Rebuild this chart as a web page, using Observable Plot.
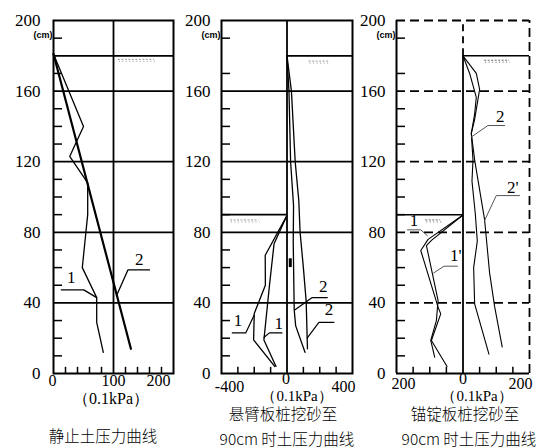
<!DOCTYPE html>
<html><head><meta charset="utf-8">
<script src="https://cdn.jsdelivr.net/npm/d3@7"></script>
<script src="https://cdn.jsdelivr.net/npm/@observablehq/plot@0.6"></script>
<style>
body{margin:0;background:#fff;}
#wrap{position:relative;width:556px;height:448px;overflow:hidden;background:#fff;}
.cap{position:absolute;white-space:nowrap;transform:translate(-50%,-50%);color:#000;line-height:1;}
.cjk{font-family:"Noto Sans CJK SC","Noto Sans",sans-serif;font-weight:300;}
.unit{font-family:"Liberation Serif","Tinos","DejaVu Serif","Times New Roman",serif;}
</style></head><body><div id="wrap"></div>
<script>
// ---------- shared axis values ----------
const yLabels = [0, 40, 80, 120, 160, 200];
const yMinor = [10, 20, 30, 50, 60, 70, 90, 100, 110, 130, 140, 150, 170, 190];
const yUnit = "(cm)";
const xUnit = "（0.1kPa）";

// ---------- panel 1 : 静止土压力曲线 ----------
const p1XDomain = [0, 200];
const p1XLabels = [0, 100, 200];
const p1XMinor = [20, 40, 60, 80, 120, 140, 160, 180];
const p1GridY = [40, 80, 120, 160, 180];
const p1GridX = [100];
const p1Curve1 = [[0,181],[50,140],[27,123],[57,108],[57,90],[48,60],[72,43],[72,29],[83,12]];
const p1Curve2 = [[0,181],[129,14]];
const p1Leader1 = [[13,47.4],[50.5,47.4],[72,43]];
const p1Leader2 = [[160,58.7],[124,58.7],[105,44]];
const p1Labels = [{t:"1", x:29.5, y:54.2}, {t:"2", x:143, y:64.4}];
const p1Hatch = [{x1:108, x2:168, y:178}];
const p1Title = ["静止土压力曲线"];

// ---------- panel 2 : 悬臂板桩 ----------
const p2XDomain = [-400, 400];
const p2XLabels = [-400, 0, 400];
const p2XMinor = [-300, -200, -100, 100, 200, 300];
const p2GridY = [40, 80, 120, 160];
const p2GridX = [0];
const p2Ground = [{x1:0, x2:400, y:180}, {x1:-400, x2:0, y:90}];
const p2Left1 = [[-3,89],[-133,67],[-132,50],[-200,34],[-204,19],[-75,4]];
const p2Left2 = [[-3,89],[-79,73.5],[-107,50],[-141,19],[-67,4]];
const p2Right1 = [[0,180],[12,160],[22,120],[40,95],[38,75],[44,36],[53,27],[110,12]];
const p2Right2 = [[0,180],[27,160],[50,120],[72,98],[80,80],[100,60],[117,41],[125,14]];
const p2Leaders = [
  [[246,43],[154,43],[47,36]],
  [[287,29],[195,29],[123,20]],
  [[-334,23],[-252,23],[-201,33]],
  [[-31,23],[-107,23],[-140,20.5]]
];
const p2Labels = [{t:"2", x:221, y:49}, {t:"2", x:256, y:36}, {t:"1", x:-300, y:30}, {t:"1", x:-51, y:28.5}];
const p2Mark = [{x:20, y1:60, y2:65}];
const p2Hatch = [{x1:135, x2:260, y:177}, {x1:-345, x2:-170, y:87}];
const p2Title = ["悬臂板桩挖砂至", "90cm 时土压力曲线"];

// ---------- panel 3 : 锚锭板桩 ----------
const p3XDomain = [-200, 200];
const p3XLabels = [-200, 0, 200];
const p3XLabelText = ["200", "0", "200"];
const p3XMinor = [-150, -100, -50, 50, 100, 150];
const p3DashY = [40, 80, 120, 160, 200];
const p3Ground = [{x1:0, x2:200, y:180}, {x1:-200, x2:0, y:90}];
const p3Right2 = [[0,180],[20,170],[40,156.5],[35,147],[25,136],[30,121],[27,109],[37,90.5],[43,75],[32,60],[35,39.5],[78,11]];
const p3Right2p = [[0,180],[40,170],[50,161],[35,144],[25,136],[35,121],[50,104],[65,87],[80,57],[95,38],[118,15]];
const p3Left1 = [[-2,89.5],[-105,76],[-127,69.7],[-75,37.6],[-67,33.8],[-95,18.7],[-48,4]];
const p3Left1p = [[-2,89.5],[-95,75.4],[-110,72.5],[-75,41.4],[-80,30],[-97,18.7],[-85,9.2]];
const p3Leaders = [
  [[125,140.5],[75,140.5],[25,134]],
  [[170,100.8],[100,100.8],[65,86.7]],
  [[-17,60.8],[-57,60.8],[-88,57]],
  [[-167,81.4],[-127,81.4],[-107,78]]
];
const p3Labels = [{t:"2", x:112, y:145.6}, {t:"2'", x:150, y:105.6}, {t:"1'", x:-22, y:66.9}, {t:"1", x:-147, y:86.7}];
const p3Hatch = [{x1:65, x2:140, y:177.5}, {x1:-112, x2:-67, y:87}];
const p3Title = ["锚锭板桩挖砂至", "90cm 时土压力曲线"];

const wrap = document.getElementById("wrap");
const SERIF = "Liberation Serif, Tinos, DejaVu Serif, Times New Roman, serif";

function place(svg, left) {
  svg.style.position = "absolute";
  svg.style.left = left + "px";
  svg.style.top = "0px";
  svg.style.fontFamily = SERIF;
  wrap.appendChild(svg);
}
function plotPanel(width, mL, mR, xd, marks) {
  return Plot.plot({
    width, height: 400, marginTop: 20, marginBottom: 27, marginLeft: mL, marginRight: mR,
    x: {domain: xd, axis: null}, y: {domain: [0, 200], axis: null},
    style: {background: "transparent", fontSize: "16px", color: "#000", overflow: "visible"},
    marks
  });
}
function yAxisMarks(xd, tickLen, dx) {
  return [
    Plot.ruleY(yMinor, {x1: xd[0], x2: xd[0] + tickLen, stroke: "#000", strokeWidth: 1.5}),
    Plot.text(yLabels, {x: xd[0], y: d => d, text: d => String(d), textAnchor: "end", dx, fontSize: 17, fontFamily: SERIF}),
    Plot.text([yUnit], {x: xd[0], y: 192, textAnchor: "end", dx: -1, fontSize: 9, fontWeight: "bold", fontFamily: "Liberation Sans, Arimo, DejaVu Sans, sans-serif"})
  ];
}
function xTickMarks(minor, len) {
  return Plot.ruleX(minor, {y1: 0, y2: len, stroke: "#000", strokeWidth: 1.5});
}
function xLabelMarks(vals, texts, dxs, dys) {
  return vals.map((v, i) => Plot.text([v], {x: d => d, y: 0, dy: dys[i], dx: dxs[i], text: () => texts[i], fontSize: 16, fontFamily: SERIF}));
}
function hatchMarks(h, color) {
  return [
    Plot.ruleY(h, {y: "y", x1: "x1", x2: "x2", stroke: color, strokeWidth: 1, strokeDasharray: "2,1.5"}),
    Plot.ruleY(h, {y: "y", x1: "x1", x2: "x2", stroke: color, strokeWidth: 1, strokeDasharray: "1,2.5", dy: 2, dx: 1})
  ];
}
function labelMarks(labels) {
  return Plot.text(labels, {x: "x", y: "y", text: "t", fontSize: 17, fontFamily: SERIF});
}

// ---------- panel 1 ----------
place(plotPanel(190, 53, 17, p1XDomain, [
  Plot.ruleY(p1GridY, {stroke: "#000", strokeWidth: 1.8}),
  Plot.ruleX(p1GridX, {stroke: "#000", strokeWidth: 1.8}),
  ...hatchMarks(p1Hatch, "#999"),
  ...yAxisMarks(p1XDomain, 15, -13),
  xTickMarks(p1XMinor, 3.5),
  ...xLabelMarks(p1XLabels, p1XLabels.map(String), [-1, 0, -15], [7, 7, 7]),
  Plot.line(p1Curve1, {stroke: "#000", strokeWidth: 1.3}),
  Plot.line(p1Curve2, {stroke: "#000", strokeWidth: 2.2}),
  Plot.line(p1Leader1, {stroke: "#000", strokeWidth: 1.3}),
  Plot.line(p1Leader2, {stroke: "#000", strokeWidth: 1.3}),
  labelMarks(p1Labels),
  Plot.frame({stroke: "#000", strokeWidth: 2})
]), 0);

// ---------- panel 2 ----------
place(plotPanel(180, 36, 13, p2XDomain, [
  Plot.ruleY(p2GridY, {stroke: "#000", strokeWidth: 1.8}),
  Plot.ruleX(p2GridX, {stroke: "#000", strokeWidth: 1.8}),
  Plot.ruleY(p2Ground, {y: "y", x1: "x1", x2: "x2", stroke: "#000", strokeWidth: 1.8}),
  ...hatchMarks(p2Hatch, "#999"),
  ...yAxisMarks(p2XDomain, 55, -11),
  xTickMarks(p2XMinor, 3.5),
  ...xLabelMarks(p2XLabels, p2XLabels.map(String), [8, -1, -9], [13, 5, 13]),
  Plot.line(p2Left1, {stroke: "#000", strokeWidth: 1.3}),
  Plot.line(p2Left2, {stroke: "#000", strokeWidth: 1.3}),
  Plot.line(p2Right1, {stroke: "#000", strokeWidth: 1.3}),
  Plot.line(p2Right2, {stroke: "#000", strokeWidth: 1.3}),
  ...p2Leaders.map(l => Plot.line(l, {stroke: "#000", strokeWidth: 1.2})),
  Plot.ruleX(p2Mark, {x: "x", y1: "y1", y2: "y2", stroke: "#000", strokeWidth: 3}),
  labelMarks(p2Labels),
  Plot.frame({stroke: "#000", strokeWidth: 2})
]), 185);

// ---------- panel 3 ----------
const dash = "9,5";
place(plotPanel(196, 36, 27, p3XDomain, [
  Plot.ruleY(p3DashY, {stroke: "#000", strokeWidth: 1.8, strokeDasharray: dash}),
  Plot.ruleX([p3XDomain[1]], {y1: 0, y2: 200, stroke: "#000", strokeWidth: 1.8, strokeDasharray: dash}),
  Plot.ruleX([0], {y1: 180, y2: 200, stroke: "#000", strokeWidth: 1.8, strokeDasharray: "7,5"}),
  Plot.ruleX([0], {y1: 0, y2: 180, stroke: "#000", strokeWidth: 1.8}),
  Plot.ruleX([p3XDomain[0]], {y1: 0, y2: 200, stroke: "#000", strokeWidth: 2}),
  Plot.ruleY([0], {stroke: "#000", strokeWidth: 2}),
  Plot.ruleY(p3Ground, {y: "y", x1: "x1", x2: "x2", stroke: "#000", strokeWidth: 1.5}),
  ...hatchMarks(p3Hatch, "#666"),
  ...yAxisMarks(p3XDomain, 27, -11),
  xTickMarks(p3XMinor, 3.5),
  ...xLabelMarks(p3XLabels, p3XLabelText, [7, 0, -9], [10, 5, 10]),
  Plot.line(p3Right2, {stroke: "#000", strokeWidth: 1.1}),
  Plot.line(p3Right2p, {stroke: "#000", strokeWidth: 1.1}),
  Plot.line(p3Left1, {stroke: "#000", strokeWidth: 1.1}),
  Plot.line(p3Left1p, {stroke: "#000", strokeWidth: 1.1}),
  ...p3Leaders.map(l => Plot.line(l, {stroke: "#555", strokeWidth: 1})),
  labelMarks(p3Labels)
]), 360);

// ---------- captions (below the plots) ----------
function cap(text, cx, cy, size, cls) {
  const d = document.createElement("div");
  d.className = "cap " + cls;
  d.textContent = text;
  d.style.left = cx + "px";
  d.style.top = cy + "px";
  d.style.fontSize = size + "px";
  wrap.appendChild(d);
}
cap(xUnit, 111, 399, 16, "unit");
cap(xUnit, 297, 396, 15, "unit");
cap(xUnit, 477, 396, 15, "unit");
cap(p1Title[0], 103, 436, 15.5, "cjk");
cap(p2Title[0], 283, 414, 15.5, "cjk");
cap(p2Title[1], 287, 438.5, 15.5, "cjk");
cap(p3Title[0], 465, 414, 15.5, "cjk");
cap(p3Title[1], 469, 438.5, 15.5, "cjk");
</script>
</body></html>
